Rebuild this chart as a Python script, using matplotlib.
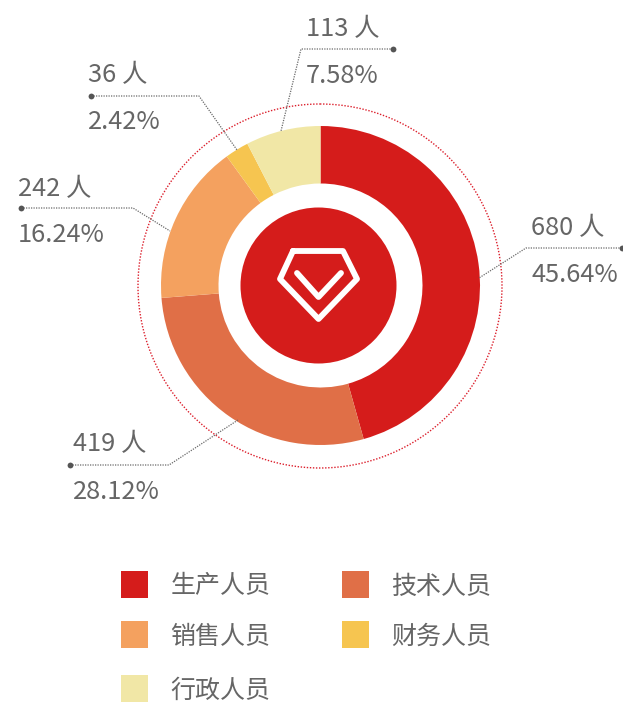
import matplotlib
matplotlib.use('Agg')
import matplotlib.pyplot as plt
from matplotlib.patches import Circle, Rectangle

plt.rcParams['font.family'] = ['Noto Sans CJK SC', 'DejaVu Sans']

# data
categories = ['生产人员', '技术人员', '销售人员', '财务人员', '行政人员']
people = [680, 419, 242, 36, 113]
percents = ['45.64%', '28.12%', '16.24%', '2.42%', '7.58%']
colors = ['#d51c1b', '#e06f47', '#f4a15f', '#f6c550', '#f1e7a6']

text_color = '#666666'
line_color = '#6a6a6a'

fig = plt.figure(figsize=(6.23, 7.02), dpi=100)
ax = fig.add_axes([0, 0, 1, 1])
ax.set_xlim(0, 623)
ax.set_ylim(702, 0)
ax.axis('off')

# the pie is drawn in its own y-up axes laid over the same pixels
ax2 = fig.add_axes([0, 0, 1, 1], zorder=-1)
ax2.set_xlim(0, 623)
ax2.set_ylim(0, 702)
ax2.axis('off')
ax2.pie(people, colors=colors, startangle=90, counterclock=False,
        center=(320.5, 702 - 285.5), radius=159.5, frame=True,
        wedgeprops=dict(width=57.5, linewidth=0))
ax2.set_xlim(0, 623)
ax2.set_ylim(0, 702)
ax2.set_aspect('auto')
ax2.axis('off')

# dotted outer ring and center disc
ax.add_patch(Circle((320, 286), 182, fill=False, edgecolor='#dc1f2c', lw=1.0, ls=(0, (1, 1.2))))
ax.add_patch(Circle((318.5, 285.5), 78, color='#d51c1b', lw=0))

# diamond icon
ax.plot([293, 343, 357, 318.5, 280, 293], [251, 251, 279, 319, 279, 251],
        color='white', lw=4.2, solid_joinstyle='round', solid_capstyle='round')
ax.plot([297, 318.5, 341], [273, 297, 273], color='white', lw=4.2,
        solid_joinstyle='round', solid_capstyle='round')

# leader lines: (dot end) -> elbow -> slice
leaders = [
    ([622, 526, 479], [248, 248, 278]),
    ([70, 169, 238], [465, 465, 420]),
    ([21, 133, 170], [208, 208, 231]),
    ([91, 199, 237], [96, 96, 150]),
    ([393, 301, 281], [49, 49, 131]),
]
for xs, ys in leaders:
    ax.plot(xs, ys, color=line_color, lw=0.9, ls=(0, (1, 1)))
    ax.plot(xs[0], ys[0], 'o', color='#555555', ms=4.2, mew=0)

# value labels
label_pos = [(531, 228, 275), (73, 444, 492), (18, 189, 235), (88, 75, 122), (306, 29, 76)]
for n, pct, (x, y1, y2) in zip(people, percents, label_pos):
    ax.text(x, y1, f'{n} 人', fontsize=18.3, color=text_color, va='center', ha='left')
    ax.text(x, y2, pct, fontsize=18.3, color=text_color, va='center', ha='left')

# legend
legend_pos = [(121, 584.5), (342, 584.5), (121, 634.5), (342, 634.5), (121, 688.5)]
for name, c, (x, y) in zip(categories, colors, legend_pos):
    ax.add_patch(Rectangle((x, y - 13.5), 27, 27, color=c, lw=0))
    ax.text(x + 49.5, y + 2, name, fontsize=18, color=text_color, va='center', ha='left')

fig.savefig('out.png', dpi=100)
